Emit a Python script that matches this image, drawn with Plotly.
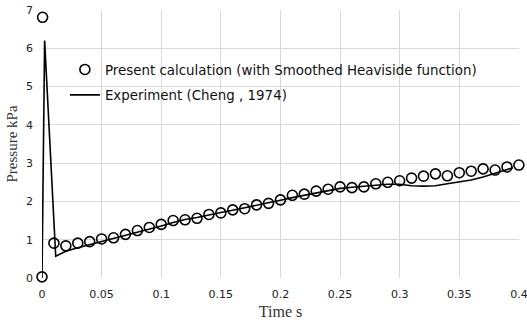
import plotly.graph_objects as go

# Present calculation (open circles)
calc_t = [0.0, 0.0005, 0.01, 0.02, 0.03, 0.04, 0.05, 0.06, 0.07, 0.08, 0.09, 0.10,
          0.11, 0.12, 0.13, 0.14, 0.15, 0.16, 0.17, 0.18, 0.19, 0.20,
          0.21, 0.22, 0.23, 0.24, 0.25, 0.26, 0.27, 0.28, 0.29, 0.30,
          0.31, 0.32, 0.33, 0.34, 0.35, 0.36, 0.37, 0.38, 0.39, 0.40]
calc_p = [0.03, 6.81, 0.91, 0.84, 0.91, 0.95, 1.02, 1.05, 1.14, 1.24, 1.32, 1.40,
          1.50, 1.52, 1.56, 1.66, 1.70, 1.78, 1.81, 1.91, 1.95, 2.04,
          2.16, 2.19, 2.27, 2.32, 2.38, 2.36, 2.38, 2.46, 2.50, 2.54,
          2.61, 2.66, 2.72, 2.67, 2.75, 2.79, 2.85, 2.82, 2.90, 2.95]

# Experiment (Cheng, 1974) line
exp_t = [0.0, 0.0022, 0.0115, 0.02, 0.03, 0.04, 0.05, 0.06, 0.07, 0.08, 0.09, 0.10,
         0.11, 0.12, 0.13, 0.14, 0.15, 0.16, 0.17, 0.18, 0.19, 0.20,
         0.21, 0.22, 0.23, 0.24, 0.25, 0.26, 0.27, 0.28, 0.29, 0.30,
         0.31, 0.32, 0.33, 0.34, 0.35, 0.36, 0.37, 0.38, 0.39, 0.395]
exp_p = [0.0, 6.2, 0.57, 0.70, 0.79, 0.87, 0.95, 1.03, 1.11, 1.20, 1.28, 1.36,
         1.45, 1.53, 1.58, 1.65, 1.71, 1.77, 1.83, 1.90, 1.96, 2.03,
         2.10, 2.16, 2.22, 2.28, 2.34, 2.37, 2.40, 2.43, 2.45, 2.45,
         2.41, 2.40, 2.41, 2.46, 2.51, 2.56, 2.64, 2.73, 2.82, 2.88]

x_ticks = [0, 0.05, 0.1, 0.15, 0.2, 0.25, 0.3, 0.35, 0.4]
x_tick_labels = ["0", "0.05", "0.1", "0.15", "0.2", "0.25", "0.3", "0.35", "0.4"]
y_ticks = [0, 1, 2, 3, 4, 5, 6, 7]

fig = go.Figure()
fig.add_trace(go.Scatter(
    x=calc_t, y=calc_p, mode="markers",
    name="Present calculation (with Smoothed Heaviside function)",
    legendgroup="a", cliponaxis=False,
    marker=dict(symbol="circle-open", size=10, color="black", line=dict(width=1.6, color="black")),
))
fig.add_trace(go.Scatter(
    x=exp_t, y=exp_p, mode="lines",
    name="Experiment (Cheng , 1974)",
    legendgroup="b", cliponaxis=False,
    line=dict(color="black", width=1.6),
))

fig.update_layout(
    width=527, height=322,
    margin=dict(l=42, r=8, t=10, b=44, autoexpand=False),
    paper_bgcolor="white", plot_bgcolor="white",
    font=dict(family="DejaVu Sans", size=11, color="#333333"),
    showlegend=True,
    legend=dict(
        x=0.048, y=0.835, xanchor="left", yanchor="top",
        bgcolor="rgba(0,0,0,0)", traceorder="grouped", tracegroupgap=5,
        font=dict(family="DejaVu Sans", size=13.4, color="#111111"),
        itemwidth=30,
    ),
    xaxis=dict(
        range=[0, 0.4001], tickvals=x_ticks, ticktext=x_tick_labels,
        showgrid=True, gridcolor="#d9d9d9", gridwidth=1, automargin=False,
        zeroline=False, showline=False, ticks="", ticklabelstandoff=8,
        ticklabeloverflow="allow",
        title=dict(text="Time s", font=dict(family="Liberation Serif", size=16, color="#333333"), standoff=5),
        tickfont=dict(size=11, color="#222222"),
    ),
    yaxis=dict(
        range=[0, 7.0001], tickvals=y_ticks,
        showgrid=True, gridcolor="#d9d9d9", gridwidth=1, automargin=False,
        zeroline=False, showline=False, ticks="", ticklabelstandoff=8,
        ticklabeloverflow="allow",
        title=dict(text="Pressure kPa", font=dict(family="Liberation Serif", size=15, color="#333333"), standoff=4),
        tickfont=dict(size=11, color="#222222"),
    ),
)

fig.write_html("out.html")
